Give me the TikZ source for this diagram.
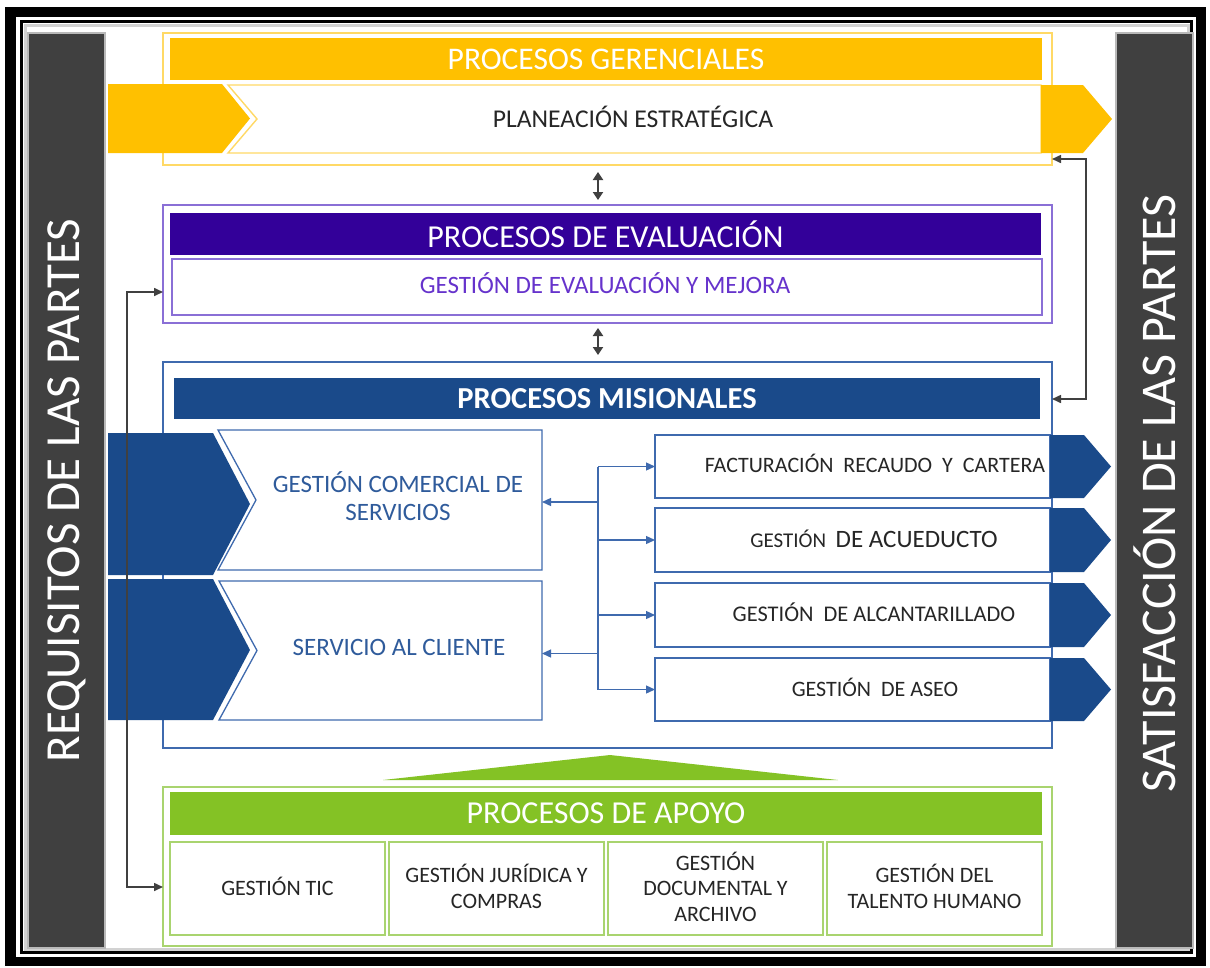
\documentclass[tikz,border=0pt]{standalone}
\usepackage{fontspec}
\setmainfont{Carlito}
\usetikzlibrary{arrows.meta,fit,calc}
\definecolor{yel}{HTML}{FFC000}
\definecolor{yelL}{HTML}{FFD966}
\definecolor{pur}{HTML}{330099}
\definecolor{purL}{HTML}{8A6FD6}
\definecolor{purT}{HTML}{6633CC}
\definecolor{blu}{HTML}{1A4A8A}
\definecolor{bluL}{HTML}{3F6AAE}
\definecolor{bluT}{HTML}{2F5B9B}
\definecolor{grn}{HTML}{84C225}
\definecolor{grnL}{HTML}{A9D46F}
\definecolor{bar}{HTML}{404040}
\definecolor{txt}{HTML}{262626}
\begin{document}
\begin{tikzpicture}[x=1pt,y=-1pt,
  grp/.style={draw, line width=1.4pt, inner sep=0pt, outer sep=0pt},
  head/.style={inner sep=0pt, outer sep=0pt, text=white, font=\fontsize{31.5}{33}\selectfont},
  sidebar/.style={fill=bar, draw=gray!55, line width=2pt, inner sep=0pt, outer sep=0pt},
  sidetext/.style={text=white, rotate=90},
  wbox/.style={draw, fill=white, line width=1.3pt, inner sep=0pt, outer sep=0pt},
  btxt/.style={text=bluT, align=center, font=\fontsize{25}{28}\selectfont},
  rtxt/.style={text=txt, font=\fontsize{22}{24}\selectfont},
  atxt/.style={text=txt, align=center, font=\fontsize{22}{25.5}\selectfont},
  barr/.style={draw=bluL, line width=1.3pt, -{Triangle[width=8pt,length=9pt]}},
  garr/.style={draw=bar, line width=1.6pt, {Triangle[width=8pt,length=9pt]}-{Triangle[width=8pt,length=9pt]}},
  darr/.style={draw=bar, line width=2.5pt, {Triangle[width=10pt,length=8pt]}-{Triangle[width=10pt,length=8pt]}}
]
\useasboundingbox (0,0) rectangle (1210,967);
\fill[white] (0,0) rectangle (1210,967);
% frame
\fill[black] (5,7) rectangle (1206,966);
\fill[white] (16,17) rectangle (1196,957);
\draw[black, line width=3pt] (21.5,21.5) rectangle (1191.5,952.5);
\draw[gray!35, line width=3pt] (25,25) rectangle (1188,949);
% side bars
\node[sidebar, fit={(28,33)(105,948)}] (req) {};
\node[sidetext, font=\fontsize{49}{52}\selectfont] (reqt) at (req.center) {REQUISITOS DE LAS PARTES};
\node[sidebar, fit={(1116,33)(1193,948)}] (sat) {};
\node[sidetext, font=\fontsize{50}{52}\selectfont] (satt) at ([yshift=-3pt]sat.center) {SATISFACCIÓN DE LAS PARTES};
\coordinate (trk) at (598,0);

% Gerenciales
\node[grp, draw=yelL, fit={(163,33)(1052,165)}] (ger) {};
\node[head, fill=yel, fit={(170,38)(1042,80)}] (gerh) {};
\node[head] (gerht) at (gerh.center) {PROCESOS GERENCIALES};
\fill[yel] (108,84) -- (222,84) -- (250,118.5) -- (222,153) -- (108,153) -- cycle;
\filldraw[fill=white, draw=yelL, line width=1.4pt] (228,85) -- (1041,85) -- (1041,153) -- (228,153) -- (257,119) -- cycle;
\node[text=txt, font=\fontsize{25.6}{28}\selectfont] (plan) at (633,117) {PLANEACIÓN ESTRATÉGICA};
\fill[yel] (1041,85) -- (1083,85) -- (1112,119) -- (1083,153) -- (1041,153) -- cycle;

% Evaluacion
\node[grp, draw=purL, fit={(163,205)(1052,323)}] (eva) {};
\node[head, fill=pur, fit={(170,213)(1041,255)}] (evah) {};
\node[head, font=\fontsize{32}{34}\selectfont] (evaht) at (evah.center) {PROCESOS DE EVALUACIÓN};
\node[wbox, draw=purL, fit={(172,259)(1042,315)}] (evam) {};
\node[text=purT, font=\fontsize{25}{28}\selectfont] (evamt) at (605,283) {GESTIÓN DE EVALUACIÓN Y MEJORA};

% Misionales
\node[grp, draw=bluL, fit={(163,362)(1052,748)}] (mis) {};
\node[head, fill=blu, fit={(174,378)(1040,419)}] (mish) {};
\node[head, font=\fontsize{30.5}{32}\selectfont\bfseries] (misht) at (mish.center) {PROCESOS MISIONALES};
% left chevrons
\fill[blu] (108,433) -- (213,433) -- (250,504) -- (213,575) -- (108,575) -- cycle;
\fill[blu] (108,579) -- (213,579) -- (250,650) -- (213,720) -- (108,720) -- cycle;
\node[inner sep=0pt, outer sep=0pt, fit={(218,430)(542,570)}] (gc) {};
\node[inner sep=0pt, outer sep=0pt, fit={(219,581)(542,720)}] (sc) {};
\filldraw[fill=white, draw=bluL, line width=1.3pt] (gc.north west) -- (gc.north east) -- (gc.south east) -- (gc.south west) -- ($(gc.west)+(38,0)$) -- cycle;
\filldraw[fill=white, draw=bluL, line width=1.3pt] (sc.north west) -- (sc.north east) -- (sc.south east) -- (sc.south west) -- ($(sc.west)+(38,0)$) -- cycle;
\node[btxt] (gct) at (398,496) {GESTIÓN COMERCIAL DE\\SERVICIOS};
\node[btxt] (sct) at (399,647) {SERVICIO AL CLIENTE};
% right boxes
\node[wbox, draw=bluL, fit={(655,435)(1050,498)}] (fac) {};
\node[wbox, draw=bluL, fit={(655,508)(1050,572)}] (acu) {};
\node[wbox, draw=bluL, fit={(655,583)(1050,647)}] (alc) {};
\node[wbox, draw=bluL, fit={(655,658)(1050,721)}] (ase) {};
\foreach \t/\b in {435/498, 508/572, 583/647, 658/721}{
  \fill[blu] (1050,\t) -- (1084,\t) -- (1111,{(\t+\b)/2}) -- (1084,\b) -- (1050,\b) -- cycle;
}
\node[rtxt] (fact) at (875,463) {FACTURACIÓN\ \ RECAUDO\ \ Y\ \ CARTERA};
\node[rtxt, font=\fontsize{21}{24}\selectfont] (acut) at (874,539) {GESTIÓN\ \ {\fontsize{25}{28}\selectfont DE ACUEDUCTO}};
\node[rtxt, font=\fontsize{22.4}{24}\selectfont] (alct) at (874,612) {GESTIÓN\ \ DE ALCANTARILLADO};
\node[rtxt] (aset) at (875,687) {GESTIÓN\ \ DE ASEO};
% connectors in misionales
\draw[bluL, line width=1.3pt] (fac.west -| trk) -- (ase.west -| trk);
\foreach \n in {fac,acu,alc,ase}{ \draw[barr] (\n.west -| trk) -- (\n.west); }
\draw[barr] ([yshift=-2pt]gc.east -| trk) -- ([yshift=-2pt]gc.east);
\draw[barr] ([yshift=-3pt]sc.east -| trk) -- ([yshift=-3pt]sc.east);

% Apoyo
\fill[grn] (383,780) -- (610,755) -- (838,780) -- cycle;
\node[grp, draw=grnL, fit={(163,787)(1052,946)}] (apo) {};
\node[head, fill=grn, fit={(170,792)(1042,835)}] (apoh) {};
\node[head, font=\fontsize{32}{34}\selectfont] (apoht) at (apoh.center) {PROCESOS DE APOYO};
\node[wbox, draw=grnL, fit={(170,842)(385,935)}] (tic) {};
\node[wbox, draw=grnL, fit={(389,842)(604,935)}] (jur) {};
\node[wbox, draw=grnL, fit={(608,842)(823,935)}] (doc) {};
\node[wbox, draw=grnL, fit={(827,842)(1042,935)}] (tal) {};
\node[atxt] (tict) at ([yshift=2pt]tic.center) {GESTIÓN TIC};
\node[atxt] (jurt) at ([yshift=2pt]jur.center) {GESTIÓN JURÍDICA Y\\COMPRAS};
\node[atxt] (doct) at ([yshift=2pt]doc.center) {GESTIÓN\\DOCUMENTAL Y\\ARCHIVO};
\node[atxt] (talt) at ([yshift=2pt]tal.center) {GESTIÓN DEL\\TALENTO HUMANO};

% group double arrows
\draw[darr, shorten <=7pt, shorten >=5pt] (ger.south -| trk) -- (eva.north -| trk);
\draw[darr, shorten <=5pt, shorten >=7pt] (eva.south -| trk) -- (mis.north -| trk);
% side gray connectors
\coordinate (lt) at (127,292);
\coordinate (lb) at (127,887);
\draw[garr] (lb -| apo.west) -- (lb) -- (lt) -- (lt -| eva.west);
\coordinate (rt) at (1086,159);
\coordinate (rb) at (1086,399);
\draw[garr] (rt -| ger.east) -- (rt) -- (rb) -- (rb -| mis.east);
\end{tikzpicture}
\end{document}
